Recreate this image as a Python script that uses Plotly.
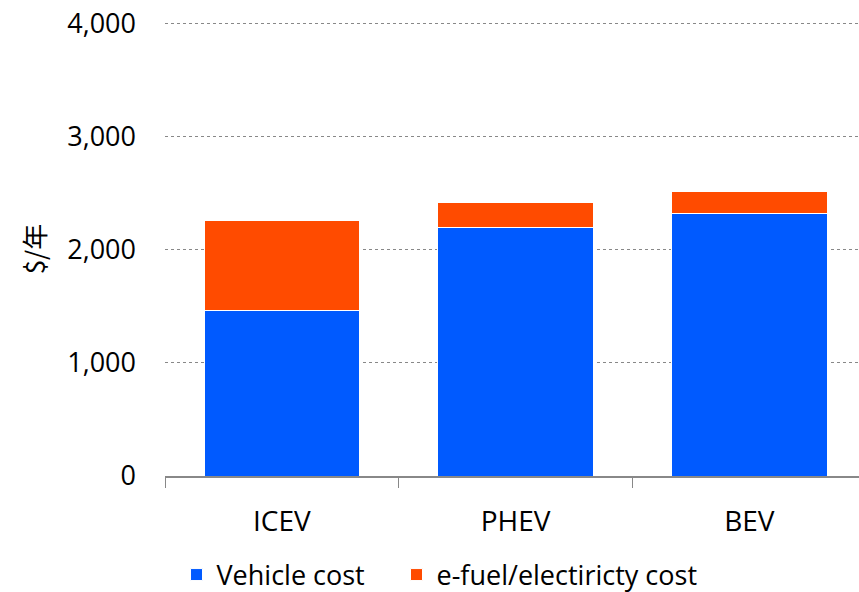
import plotly.graph_objects as go

categories = ["ICEV", "PHEV", "BEV"]
vehicle_cost = [1465, 2195, 2320]
fuel_cost = [795, 225, 197]
y_ticks = [0, 1000, 2000, 3000, 4000]
y_tick_labels = ["0", "1,000", "2,000", "3,000", "4,000"]

FONT = "Open Sans, Noto Sans, sans-serif"

fig = go.Figure()
fig.add_trace(go.Bar(x=categories, y=vehicle_cost, name="Vehicle cost", legend="legend",
                     marker=dict(color="#005AFF", line=dict(color="white", width=1))))
fig.add_trace(go.Bar(x=categories, y=fuel_cost, name="e-fuel/electiricty cost", legend="legend2",
                     marker=dict(color="#FF4B00", line=dict(color="white", width=1))))

legend_common = dict(orientation="h", xref="container", yref="container",
                     xanchor="left", y=0.0287, yanchor="middle",
                     font=dict(size=27), itemwidth=30, borderwidth=0,
                     bgcolor="rgba(0,0,0,0)")

fig.update_layout(
    barmode="stack",
    bargap=0.335,
    width=859, height=592,
    margin=dict(l=165, r=0, t=22, b=116, autoexpand=False),
    paper_bgcolor="white", plot_bgcolor="white",
    font=dict(family=FONT, size=27, color="black"),
    showlegend=True,
    legend=dict(x=0.2055, **legend_common),
    legend2=dict(x=0.4616, **legend_common),
)
fig.update_xaxes(
    range=[-0.5, 2.469],
    showline=True, linecolor="#888888", linewidth=1.5,
    ticks="outside", tickson="boundaries", ticklen=10, tickcolor="#888888",
    showgrid=False, tickfont=dict(size=28), ticklabelstandoff=20, automargin=False,
)
fig.update_yaxes(
    range=[0, 4010],
    tickvals=y_ticks, ticktext=y_tick_labels,
    showgrid=True, gridcolor="#888888", griddash="dot", gridwidth=1,
    zeroline=False, showline=False, ticks="",
    tickfont=dict(size=27), ticklabelstandoff=28, automargin=False,
    ticklabeloverflow="allow",
    title=dict(text="$/年", font=dict(family="Noto Sans CJK JP, " + FONT, size=26), standoff=14),
)

fig.write_html("out.html",
               config={"displayModeBar": False},
               post_script="document.body.style.margin='0';document.body.style.overflow='hidden';")
